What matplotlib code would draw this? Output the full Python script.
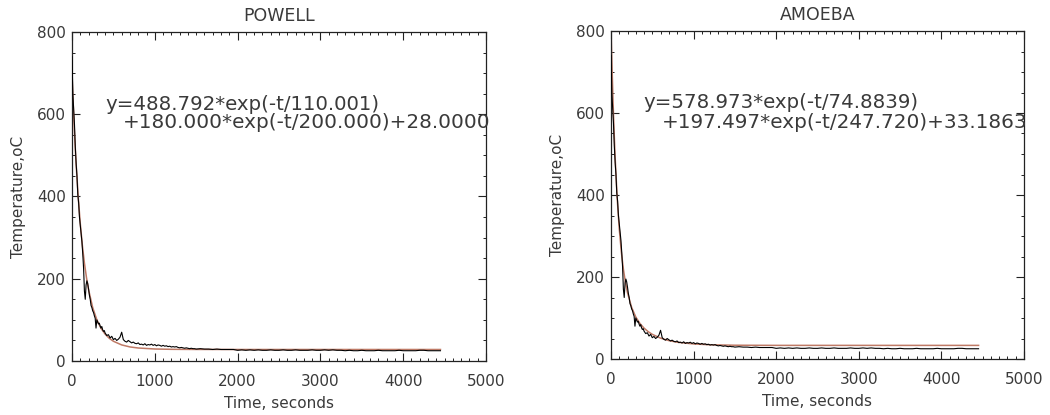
import numpy as np
import matplotlib
matplotlib.use("Agg")
import matplotlib.pyplot as plt
from matplotlib.ticker import MultipleLocator

# ---------------- data ----------------
titles = ["POWELL", "AMOEBA"]
equations = [
    ("y=488.792*exp(-t/110.001)", "+180.000*exp(-t/200.000)+28.0000"),
    ("y=578.973*exp(-t/74.8839)", "+197.497*exp(-t/247.720)+33.1863"),
]

# measured temperature (black noisy curve)
t_meas = np.concatenate([np.arange(0, 410, 10),
                         np.arange(420, 1510, 20),
                         np.arange(1550, 4500, 50)])
temp_meas = [
    740, 650, 610, 575, 520, 480, 450, 405, 385, 350,
    330, 310, 290, 260, 225, 170, 150, 185, 195, 188,
    175, 160, 150, 135, 130, 122, 118, 110, 104, 80,
    100, 95, 90, 92, 85, 80, 84, 76, 72, 74, 68,
    62, 64, 56, 60, 52, 55, 50, 53, 58, 70,
    52, 48, 46, 50, 47, 44, 46, 43, 42, 44,
    40, 41, 39, 42, 38, 40, 39, 41, 38, 40,
    37, 39, 38, 36, 38, 36, 37, 35, 36, 34,
    35, 34, 35, 33, 32, 33, 32, 31, 32, 31,
    30, 31, 30, 30, 29,
    30, 29, 29, 28, 29, 28, 28, 28, 28, 26,
    27, 26, 27, 26, 27, 26, 26, 27, 26, 26,
    27, 26, 26, 27, 26, 26, 26, 27, 26, 26,
    27, 26, 27, 26, 26, 25, 26, 25, 25, 26,
    25, 25, 25, 26, 25, 25, 25, 25, 26, 25,
    25, 25, 25, 26, 26, 25, 25, 25, 25,
]

# fitted curves (red/brown smooth curve)
t_fit = [0, 5, 10, 25, 35, 50, 75, 100, 125, 150, 175, 200, 250, 300,
         350, 400, 450, 500, 600, 700, 800, 1000, 1200, 1500, 2000, 4450]
fit_powell = [696.8, 670.7, 645.5, 576.3, 534.7, 478.4, 398.9, 334.1, 281.3,
              238.0, 202.6, 173.5, 129.9, 100.2, 79.6, 65.3, 55.2, 48.0,
              39.1, 34.2, 31.6, 29.2, 28.4, 28.1, 28.0, 28.0]
fit_amoeba = [809.7, 768.3, 729.5, 626.4, 567.5, 491.6, 391.8, 317.4, 261.5,
              219.1, 186.5, 161.4, 125.8, 102.5, 86.7, 75.3, 66.7, 60.1,
              50.9, 44.9, 41.0, 36.7, 34.7, 33.6, 33.25, 33.2]
fits = [fit_powell, fit_amoeba]

xticks = [0, 1000, 2000, 3000, 4000, 5000]
yticks = [0, 200, 400, 600, 800]

# ---------------- figure ----------------
plt.rcParams['font.family'] = ['DejaVu Sans']
fig = plt.figure(figsize=(10.5, 4.15), dpi=100)
fig.patch.set_facecolor("white")

W, H = 1050.0, 415.0
boxes = [(72, 486, 32, 361), (611, 1024, 31, 359)]
eq_pos = [((399, 647), (616, 603)), ((387, 649), (617, 600))]

txt_col = "#3a3a3a"
fit_col = "#bf7a66"

for i in range(2):
    l, r, t, b = boxes[i]
    ax = fig.add_axes([l / W, 1 - b / H, (r - l) / W, (b - t) / H])
    ax.plot(t_fit, fits[i], color=fit_col, lw=1.1, zorder=2)
    ax.plot(t_meas, temp_meas, color="black", lw=0.8, zorder=3)
    ax.set_xlim(0, 5000)
    ax.set_ylim(0, 800)
    ax.set_xticks(xticks)
    ax.set_yticks(yticks)
    ax.xaxis.set_minor_locator(MultipleLocator(100))
    ax.yaxis.set_minor_locator(MultipleLocator(50))
    ax.tick_params(which="both", direction="in", top=True, right=True,
                   colors="#222222", labelcolor=txt_col, labelsize=11)
    ax.tick_params(which="major", length=5.5, width=0.8)
    ax.tick_params(which="minor", length=2.5, width=0.7)
    ax.tick_params(axis="x", which="major", pad=9.5)
    ax.tick_params(axis="y", which="major", pad=4.5)
    for sp in ax.spines.values():
        sp.set_linewidth(0.9)
        sp.set_color("#222222")
    ax.set_title(titles[i], fontsize=12.5, color=txt_col, pad=8)
    ax.set_xlabel("Time, seconds", fontsize=11, color=txt_col, labelpad=5)
    ax.set_ylabel("Temperature,oC", fontsize=11, color=txt_col, labelpad=8)
    (x1, y1), (x2, y2) = eq_pos[i]
    ax.text(x1, y1, equations[i][0], fontsize=14.2, color=txt_col,
            va="top", ha="left", zorder=4)
    ax.text(x2, y2, equations[i][1], fontsize=14.4, color=txt_col,
            va="top", ha="left", zorder=4, clip_on=False)

fig.savefig("out.png", dpi=100, facecolor="white")
